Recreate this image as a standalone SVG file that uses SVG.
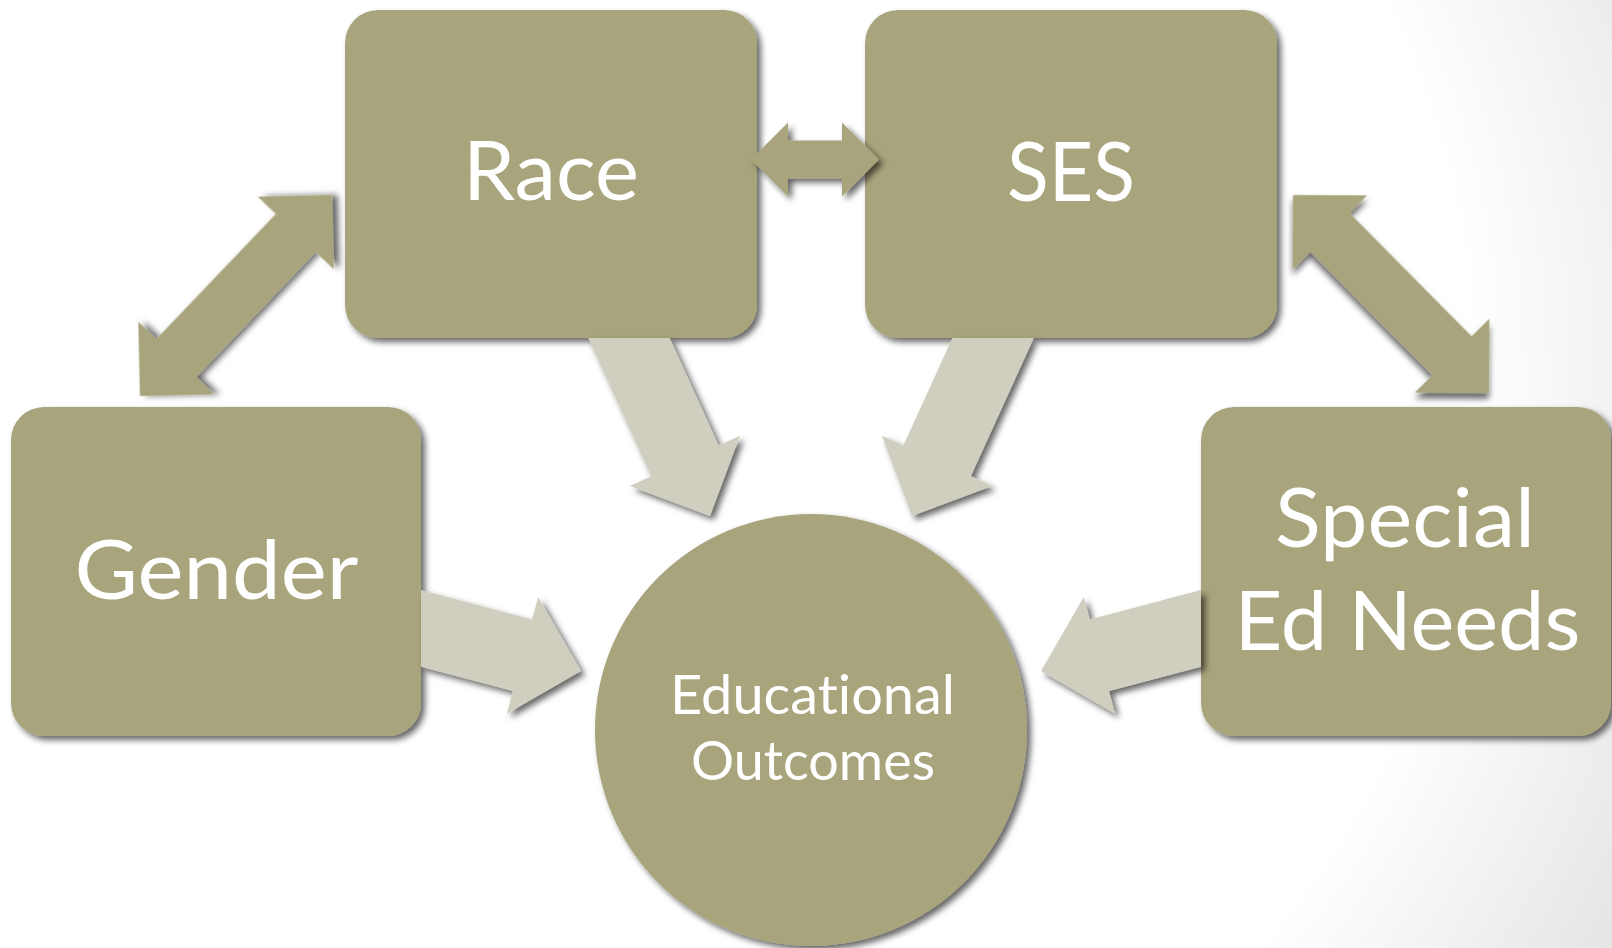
<svg xmlns="http://www.w3.org/2000/svg" width="1612" height="948" viewBox="0 0 1612 948">
  <defs>
    <radialGradient id="bg" gradientUnits="userSpaceOnUse" cx="620" cy="380" r="1150">
      <stop offset="0" stop-color="#ffffff"/>
      <stop offset="0.74" stop-color="#ffffff"/>
      <stop offset="1" stop-color="#e4e4e4"/>
    </radialGradient>
    <filter id="shadow" x="-20%" y="-20%" width="140%" height="140%">
      <feDropShadow dx="4" dy="4" stdDeviation="3" flood-color="#000000" flood-opacity="0.6"/>
    </filter>
    <style>
      .box { fill: #a8a47c; filter: url(#shadow); }
      .link2 { fill: #a8a47c; filter: url(#shadow); }
      .flow { fill: #d0cfbf; filter: url(#shadow); }
      .lbl { fill: #ffffff; font-family: Lato, "Open Sans", "Liberation Sans", sans-serif; text-anchor: middle;
             font-variant-ligatures: none; font-feature-settings: "liga" 0, "clig" 0, "dlig" 0; }
      .big { font-size: 81px; }
      .small { font-size: 54.5px; }
    </style>
  </defs>

  <rect x="0" y="0" width="1612" height="948" fill="url(#bg)"/>

  <!-- factor nodes -->
  <g id="node-race">
    <rect class="box" x="345" y="10" width="412" height="328" rx="33" ry="33"/>
    <text class="lbl big" x="551" y="200" textLength="176" lengthAdjust="spacingAndGlyphs">Race</text>
  </g>
  <g id="node-ses">
    <rect class="box" x="865" y="10" width="412" height="328" rx="33" ry="33"/>
    <text class="lbl big" x="1071" y="200.5" textLength="128" lengthAdjust="spacingAndGlyphs">SES</text>
  </g>
  <g id="node-gender">
    <rect class="box" x="11" y="407" width="410" height="329" rx="33" ry="33"/>
    <text class="lbl big" x="216.5" y="599" textLength="284" lengthAdjust="spacingAndGlyphs">Gender</text>
  </g>
  <g id="node-special">
    <rect class="box" x="1201" y="407" width="410" height="329" rx="33" ry="33"/>
    <text class="lbl big" x="1405" y="547" textLength="260" lengthAdjust="spacingAndGlyphs">Special</text>
    <text class="lbl big" x="1407.5" y="650" textLength="346" lengthAdjust="spacingAndGlyphs">Ed Needs</text>
  </g>

  <!-- outcome node -->
  <g id="node-outcomes">
    <circle class="box" cx="811" cy="730" r="216"/>
    <text class="lbl small" x="812.5" y="714" textLength="285" lengthAdjust="spacingAndGlyphs">Educational</text>
    <text class="lbl small" x="813" y="780" textLength="244" lengthAdjust="spacingAndGlyphs">Outcomes</text>
  </g>

  <!-- connectors -->
  <g id="connectors">
    <!-- one-way influences into the outcome circle -->
    <polygon class="flow" points="588.2,338 651.2,476.3 629.9,486 710,516 740,435.8 718.6,445.6 669.6,338"/>
    <polygon class="flow" points="1033.8,338 970.8,476.3 992.1,486 912,516 882,435.8 903.4,445.6 952.4,338"/>
    <polygon class="flow" points="421,590.1 532.1,619.6 538.2,596.9 581,671 506.9,713.8 513,691.1 421,666.7"/>
    <polygon class="flow" points="1201,590.1 1089.9,619.6 1083.8,596.9 1041,671 1115.1,713.8 1109,691.1 1201,666.7"/>

    <!-- two-way links between factors -->
    <polygon class="link2" points="751,159.5 788,122.5 788,140.5 842,140.5 842,122.5 879,159.5 842,196.5 842,178.5 788,178.5 788,196.5"/>
    <polygon class="link2" transform="translate(236 295.5) rotate(-46.3)"
             points="-139,0 -86.5,-52.5 -86.5,-27.6 86.5,-27.6 86.5,-52.5 139,0 86.5,52.5 86.5,27.6 -86.5,27.6 -86.5,52.5"/>
    <polygon class="link2" transform="translate(1391 294) rotate(45.3)"
             points="-139.3,0 -86.8,-52.5 -86.8,-27.6 86.8,-27.6 86.8,-52.5 139.3,0 86.8,52.5 86.8,27.6 -86.8,27.6 -86.8,52.5"/>
  </g>
</svg>
